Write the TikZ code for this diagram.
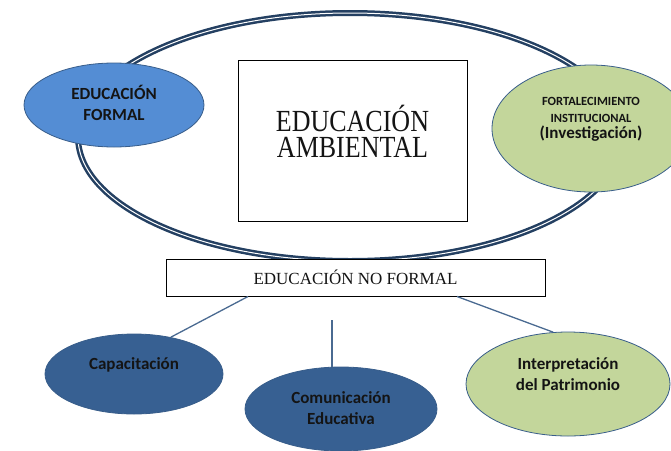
\documentclass[tikz,border=0pt]{standalone}
\usepackage{fontspec}
\setmainfont{Liberation Serif}
\newfontfamily\carlito{Carlito}
\usepackage{tikz}
\usetikzlibrary{shapes.geometric}

\definecolor{ringblue}{RGB}{36,64,98}
\definecolor{edgeblue}{RGB}{56,93,138}
\definecolor{formalblue}{RGB}{84,141,212}
\definecolor{darkblue}{RGB}{55,96,146}
\definecolor{palegreen}{RGB}{195,214,155}
\definecolor{wireblue}{RGB}{74,106,145}
\definecolor{ink}{RGB}{20,20,20}

\newcommand\petit[1]{{\fontsize{12.5}{16}\selectfont #1}}

\begin{document}
\begin{tikzpicture}[x=1pt,y=-1pt,
  oval/.style={ellipse,draw=edgeblue,line width=0.8pt,inner sep=0pt},
  box/.style={rectangle,draw=black,line width=1pt,fill=white,inner sep=0pt},
  sans/.style={font=\carlito\bfseries\fontsize{17}{20.5}\selectfont,text=ink,align=center},
  wire/.style={wireblue,line width=1.3pt}]
\useasboundingbox (0,0) rectangle (671,450);

\node[ellipse,draw=ringblue,line width=2.5pt,double=white,double distance=1pt,
  minimum width=544pt,minimum height=248pt] (ring) at (350,137) {};

\node[box,minimum width=229pt,minimum height=161pt,
  label={[text=ink,font=\fontsize{26}{17.5}\selectfont,yshift=6pt]center:\scalebox{1}[1.18]{\begin{tabular}{@{}c@{}}EDUCACIÓN\\AMBIENTAL\end{tabular}}}]
  (ambiental) at (352.5,140.5) {};

\node[oval,fill=formalblue,minimum width=180pt,minimum height=84pt,
  label={[sans,yshift=2pt]center:EDUCACIÓN\\FORMAL}] (formal) at (114,105) {};
\node[oval,fill=palegreen,minimum width=198pt,minimum height=127pt,
  label={[sans,font=\carlito\bfseries\fontsize{17}{16.5}\selectfont,yshift=9pt]center:\petit{FORTALECIMIENTO}\\\petit{INSTITUCIONAL}\\(Investigación)}]
  (fortalecimiento) at (591,128.5) {};

\node[box,minimum width=379pt,minimum height=37pt,text=ink,
  font=\fontsize{17}{20}\selectfont] (noformal) at (355.5,277.5) {EDUCACIÓN NO FORMAL};

\node[oval,fill=darkblue,minimum width=178pt,minimum height=80pt,
  label={[sans,yshift=9pt]center:Capacitación}] (capacitacion) at (134,374) {};
\node[oval,fill=darkblue,minimum width=192pt,minimum height=84pt,
  label={[sans,yshift=1pt]center:Comunicación\\Educativa}] (comunicacion) at (341,409) {};
\node[oval,fill=palegreen,minimum width=204pt,minimum height=104pt,
  label={[sans,yshift=10pt]center:Interpretación\\del Patrimonio}] (interpretacion) at (568,384) {};

\draw[wire] ([xshift=-107.5pt]noformal.south) -- (capacitacion.45);
\draw[wire] ([xshift=101.5pt]noformal.south) -- (interpretacion.106);
\coordinate (stem) at (332,320);
\draw[wire] (stem) -- (stem |- comunicacion.north);
\end{tikzpicture}
\end{document}
